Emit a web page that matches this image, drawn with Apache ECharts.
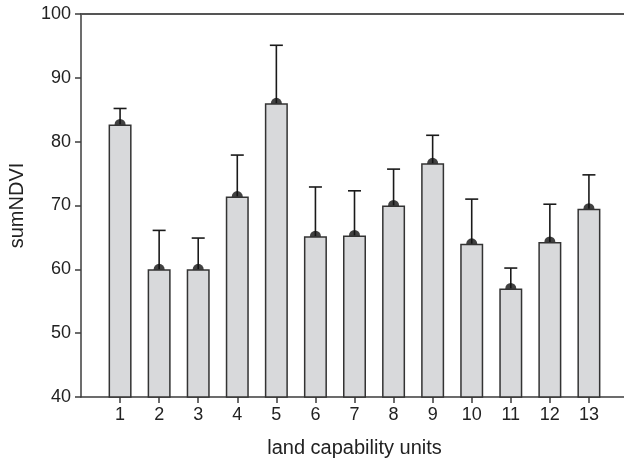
<!DOCTYPE html>
<html>
<head>
<meta charset="utf-8">
<script src="https://cdn.jsdelivr.net/npm/echarts@6/dist/echarts.min.js"></script>
<style>
html,body{margin:0;padding:0;background:#fff;}
#chart{width:624px;height:463px;}
</style>
</head>
<body>
<div id="chart"></div>
<script>
// Land capability units (x categories)
var categories = [1, 2, 3, 4, 5, 6, 7, 8, 9, 10, 11, 12, 13];
// Mean sumNDVI per unit
var meanValues = [82.7, 60.0, 60.0, 71.4, 86.0, 65.2, 65.3, 70.0, 76.6, 64.0, 57.0, 64.3, 69.5];
// Upper error (standard deviation) per unit
var errorValues = [2.5, 6.1, 4.9, 6.5, 9.1, 7.7, 7.0, 5.7, 4.4, 7.0, 3.2, 5.9, 5.3];
// Y tick labels
var yTicks = [40, 50, 60, 70, 80, 90, 100];

var barData = categories.map(function (c, i) { return [c, meanValues[i]]; });
var errData = categories.map(function (c, i) { return [c, meanValues[i], meanValues[i] + errorValues[i]]; });

var chart = echarts.init(document.getElementById('chart'), null, {renderer: 'canvas'});
var axisColor = '#3c3c3c';
var textColor = '#222';
var fontFamily = 'Liberation Sans, Arial, sans-serif';

chart.setOption({
  animation: false,
  backgroundColor: '#fff',
  grid: {left: 81, right: -4, top: 14, bottom: 66, containLabel: false, outerBoundsMode: 'none'},
  xAxis: [{
    type: 'value',
    min: 0, max: 14, interval: 1,
    name: 'land capability units',
    nameLocation: 'middle',
    nameGap: 41,
    nameTextStyle: {fontSize: 20, color: textColor, fontFamily: fontFamily},
    axisLine: {show: true, lineStyle: {color: axisColor, width: 1.5}},
    axisTick: {show: true, length: 6, lineStyle: {color: axisColor, width: 1.5}, customValues: categories},
    axisLabel: {fontSize: 18, color: textColor, fontFamily: fontFamily, margin: 9, customValues: categories},
    splitLine: {show: false}
  }, {
    type: 'value',
    position: 'top',
    min: 0, max: 14,
    axisLine: {show: true, lineStyle: {color: '#555', width: 2}},
    axisTick: {show: false},
    axisLabel: {show: false},
    splitLine: {show: false}
  }],
  yAxis: {
    type: 'value',
    min: yTicks[0], max: yTicks[yTicks.length - 1], interval: 10,
    name: 'sumNDVI',
    nameLocation: 'middle',
    nameGap: 54,
    nameTextStyle: {fontSize: 20, color: textColor, fontFamily: fontFamily},
    axisLine: {show: true, lineStyle: {color: axisColor, width: 1.5}},
    axisTick: {show: true, length: 6, lineStyle: {color: axisColor, width: 1.5}},
    axisLabel: {fontSize: 18, color: textColor, fontFamily: fontFamily, margin: 10},
    splitLine: {show: false}
  },
  series: [{
    type: 'custom',
    z: 1,
    data: errData,
    renderItem: function (params, api) {
      var x = api.value(0);
      var base = api.coord([x, api.value(1)]);
      var top = api.coord([x, api.value(2)]);
      var hw = 6.5;
      return {
        type: 'group',
        children: [{
          type: 'line',
          shape: {x1: base[0], y1: base[1], x2: top[0], y2: top[1]},
          style: {stroke: '#1a1a1a', lineWidth: 1.6}
        }, {
          type: 'line',
          shape: {x1: top[0] - hw, y1: top[1], x2: top[0] + hw, y2: top[1]},
          style: {stroke: '#1a1a1a', lineWidth: 1.6}
        }]
      };
    }
  }, {
    type: 'scatter',
    z: 1,
    data: barData,
    symbol: 'circle',
    symbolSize: 11,
    itemStyle: {color: '#111'}
  }, {
    type: 'bar',
    z: 3,
    data: barData,
    barWidth: 23,
    itemStyle: {color: '#d8d9db', borderColor: '#333', borderWidth: 1.5}
  }]
});
</script>
</body>
</html>
